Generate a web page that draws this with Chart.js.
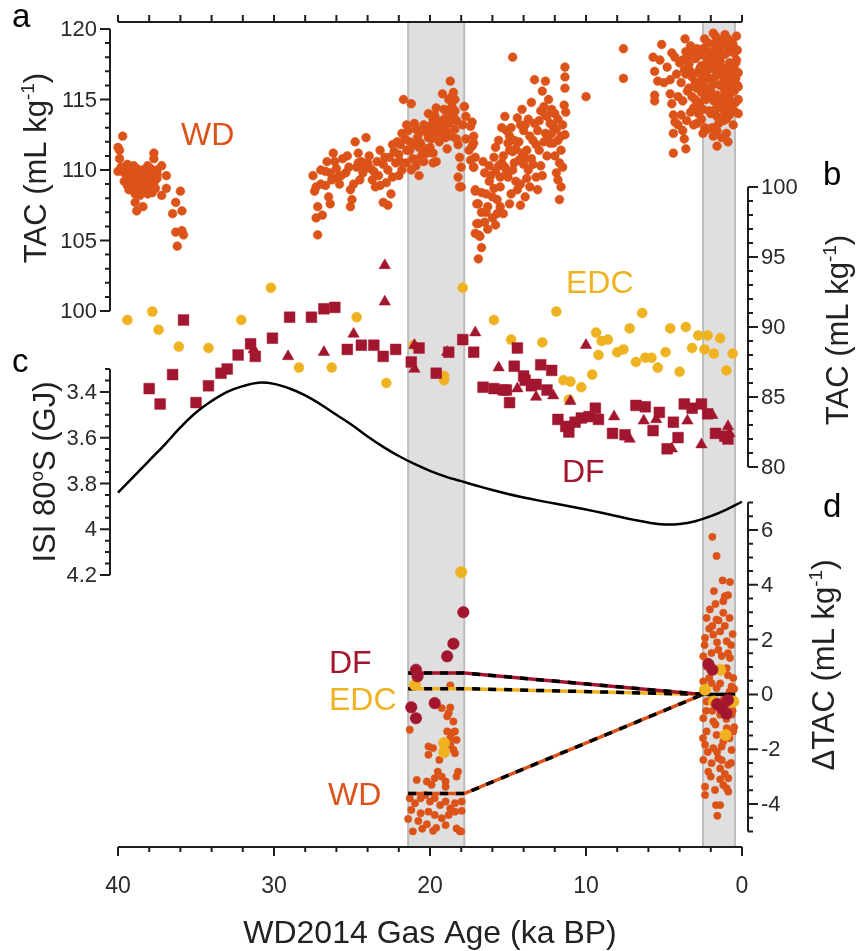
<!DOCTYPE html>
<html>
<head>
<meta charset="utf-8">
<script src="https://cdn.jsdelivr.net/npm/chart.js@4.4.1/dist/chart.umd.min.js"></script>
<style>
  body { margin: 0; background: #fff; }
</style>
</head>
<body>
<canvas id="tacChart" width="857" height="951"></canvas>
<script>
'use strict';

// ---------- data : [age ka BP, value] ----------

// panel a : WAIS Divide TAC (mL/kg)
const wdTac = [
  [40.0,111.6],[39.9,111.4],[39.7,112.4],[39.9,110.8],[40.0,109.9],[39.4,110.4],[37.7,111.2],[37.7,110.8],
  [37.2,110.3],[37.5,109.7],[36.9,109.6],[36.9,108.7],[37.2,108.2],[38.9,107.7],[38.8,107.1],[38.4,107.4],
  [36.0,108.5],[36.3,107.7],[35.9,107.1],[36.5,106.9],[36.3,105.6],[35.9,105.7],[35.8,105.4],[36.2,104.6],
  [39.8,110.2],[39.6,109.8],[39.5,110.0],[39.4,109.6],[39.3,109.9],[39.2,109.3],[39.1,109.7],[39.0,109.0],
  [38.9,109.5],[38.8,110.1],[38.8,108.8],[38.7,109.2],[38.6,109.8],[38.5,108.5],[38.5,109.4],[38.4,110.0],
  [38.3,109.1],[38.2,108.7],[38.2,109.6],[38.1,108.3],[38.0,109.3],[38.0,109.9],[37.9,108.9],[37.8,109.5],
  [37.8,108.4],[37.7,109.1],[37.6,109.8],[37.6,108.7],[37.5,109.4],[39.3,108.6],[39.0,110.3],[38.6,108.2],
  [38.3,109.9],[37.9,110.1],[39.6,109.2],[39.4,108.9],[38.9,108.3],[38.1,110.3],[37.5,110.0],
  [27.5,109.6],[27.4,108.5],[27.3,108.8],[27.2,107.4],[27.3,106.6],[27.2,105.4],[26.9,106.8],[27.0,109.0],
  [26.7,109.9],[26.6,110.6],[26.2,111.2],[26.3,109.3],[26.5,108.1],[26.4,107.6],[26.0,110.1],[25.8,109.0],
  [25.6,110.8],[25.4,109.8],[25.1,108.6],[25.0,107.9],[25.1,107.4],[24.8,112.0],[24.6,111.2],[24.7,110.2],
  [24.5,109.3],[24.4,110.6],[24.1,112.3],[24.2,110.1],[24.0,110.5],[23.7,109.3],[23.6,109.9],[23.4,110.6],
  [23.5,108.8],[23.2,108.9],[23.0,107.7],[22.9,110.9],[22.7,107.5],[22.7,110.0],[22.5,108.3],[22.4,109.5],
  [22.2,110.5],[22.1,112.0],[22.0,111.1],[21.9,111.8],[21.8,110.0],[21.7,115.0],[21.6,112.2],[21.5,113.2],
  [21.5,111.4],[21.3,112.0],[21.2,114.7],[21.2,110.0],[21.1,110.8],[20.9,112.9],[20.7,111.6],[20.7,109.6],
  [20.5,111.1],[20.4,110.6],[20.2,112.7],[20.1,114.0],[20.0,111.6],[19.9,112.2],[19.8,111.2],[19.7,113.9],
  [19.6,112.8],[19.6,110.6],[19.4,112.0],[19.2,115.4],[19.1,114.3],[19.1,113.1],[18.9,111.5],[18.8,115.0],
  [18.7,116.3],[18.7,113.8],[18.6,114.5],[18.5,115.5],[18.4,112.9],[18.3,112.2],[18.2,111.8],[18.1,110.9],
  [18.2,109.5],[18.1,108.8],[18.0,110.2],[17.9,113.2],[17.8,114.5],[17.7,112.2],[17.5,111.4],[17.4,110.7],
  [17.3,113.4],[17.2,111.9],[17.2,110.2],[17.1,108.6],[17.0,107.6],[17.0,106.2],[16.9,105.4],
  [21.0,111.8],[20.8,112.3],[20.6,111.9],[20.3,111.5],[20.1,112.3],[19.9,113.2],[19.7,112.5],[19.5,113.5],
  [19.3,112.6],[19.0,113.7],[18.9,112.7],[18.8,113.3],[18.6,112.4],[18.5,113.8],[18.4,114.2],[19.8,110.5],
  [20.9,110.3],[21.5,110.5],[22.3,111.3],[22.6,110.9],[23.0,110.4],[23.8,110.1],[24.3,109.8],[25.2,110.2],
  [25.9,109.5],[26.7,108.9],[27.0,110.0],[26.1,110.6],[25.3,111.0],[24.9,109.0],[23.3,109.6],[22.8,109.1],
  [21.8,112.6],[21.4,112.8],[21.0,113.3],[20.6,112.7],[20.4,113.2],[20.2,111.2],[20.0,112.8],[19.8,113.6],
  [19.6,114.4],[19.4,113.0],[19.2,113.5],[19.0,112.3],[18.8,114.2],[18.6,115.2],[18.4,115.0],[18.3,113.5],
  [20.7,110.8],[21.3,111.4],[21.9,110.6],[22.4,111.8],[23.2,111.4],[23.9,111.0],[24.6,110.5],[25.7,109.6],
  [26.4,109.8],[22.0,109.6],
  [17.8,114.5],[17.7,113.8],[17.4,113.1],[17.2,112.4],[17.3,111.7],[17.1,110.9],[17.2,110.2],[18.0,108.8],
  [17.1,108.5],[16.9,107.6],[16.7,107.0],[16.9,106.2],[17.1,105.5],[16.8,105.3],[16.7,104.5],[16.9,103.7],
  [16.5,106.3],[16.3,107.4],[16.4,108.3],[16.5,109.8],[16.6,110.6],[16.2,109.2],[15.9,110.9],[16.0,108.1],
  [15.8,109.9],[15.7,106.9],[15.8,106.1],[15.6,112.1],[15.5,108.8],[15.4,110.5],[15.3,106.9],[15.2,113.8],
  [15.1,112.8],[15.0,109.5],[14.9,107.6],[14.9,111.4],[14.8,108.3],[14.7,110.0],[14.6,112.1],[14.4,113.7],
  [14.3,110.7],[14.2,109.0],[14.1,114.3],[14.0,112.8],[13.9,108.1],[13.8,111.4],[13.7,110.0],[13.6,108.8],
  [13.5,114.8],[13.4,112.1],[13.3,116.4],[13.3,113.3],[13.2,109.5],[13.1,108.6],[13.0,111.4],[12.8,115.6],
  [12.7,114.5],[12.6,116.3],[12.6,112.6],[12.5,113.8],[12.4,115.0],[12.3,111.9],[12.2,114.3],[12.1,113.1],
  [12.0,111.0],[11.9,109.8],[11.8,112.1],[11.7,107.9],[11.8,109.3],[11.6,108.8],[11.6,111.4],[11.5,113.2],
  [11.4,114.6],[11.35,115.8],[11.35,116.6],[11.35,117.3],[11.3,114.1],[11.35,112.5],[11.5,110.2],[14.7,118.0],
  [10.0,115.2],[7.6,118.6],[7.6,116.5],
  [15.9,108.7],[15.6,110.3],[15.3,111.0],[15.1,109.8],[14.9,112.4],[14.6,110.5],[14.5,109.2],[14.3,112.0],
  [14.0,110.4],[13.8,109.4],[13.6,112.4],[13.5,110.8],[13.2,111.8],[13.0,113.5],[12.9,110.3],[12.7,112.0],
  [12.5,111.0],[12.3,113.3],[12.1,111.9],[11.9,112.9],[11.7,110.5],[16.2,110.3],[16.4,107.0],[16.0,106.6],
  [15.7,107.9],[14.4,108.6],[13.9,113.2],[12.8,109.6],[15.4,113.0],[14.7,111.3],
  [16.1,109.6],[15.8,111.6],[15.5,109.5],[15.2,110.2],[15.0,111.9],[14.8,113.0],[14.5,111.5],[14.2,113.2],
  [14.1,111.2],[13.9,110.8],[13.7,113.6],[13.4,110.4],[13.1,112.8],[12.9,114.2],[12.6,113.9],[12.4,112.4],
  [12.2,112.6],[12.0,114.0],[11.8,113.6],[11.6,112.4],[16.7,108.4],[16.3,105.8],[15.5,107.4],[14.2,107.5],
  [5.15,118.9],[3.65,119.3],[1.84,119.7],[1.09,119.6],[0.35,119.5],[5.7,118.0],[5.26,117.8],[4.5,118.3],
  [3.3,118.8],[2.7,118.5],[2.16,119.0],[1.63,118.8],[0.56,118.8],[5.6,117.0],[5.4,116.3],[5.6,115.3],
  [5.6,114.9],[4.6,116.4],[4.6,115.4],[4.5,114.7],[4.4,113.9],[4.3,113.4],[4.4,112.6],[4.4,111.2],
  [3.6,111.5],[3.7,112.2],[3.8,112.8],[3.55,113.5],[3.1,114.4],[2.9,113.3],[2.5,112.6],[1.84,112.4],
  [1.6,111.7],[1.0,112.6],[0.9,114.3],[0.24,115.0],[0.24,115.9],[0.24,116.9],[0.35,117.8],[0.24,114.0],
  [0.56,113.2],
  [3.4,117.5],[3.2,116.6],[3.0,117.9],[2.9,115.8],[2.8,116.9],[2.7,114.8],[2.6,117.4],[2.5,116.1],
  [2.4,115.3],[2.3,118.0],[2.2,116.6],[2.1,114.2],[2.0,117.2],[2.0,115.6],[1.9,118.3],[1.8,116.1],
  [1.8,114.9],[1.7,117.6],[1.6,115.3],[1.6,113.8],[1.5,116.8],[1.5,118.6],[1.4,114.6],[1.4,116.0],
  [1.3,117.3],[1.2,115.1],[1.2,113.5],[1.1,116.5],[1.1,118.2],[1.0,114.9],[1.0,117.0],[0.9,115.8],
  [0.8,117.6],[0.8,113.9],[0.7,116.3],[0.7,118.9],[0.6,114.8],[0.6,115.9],[0.5,117.2],[0.5,114.2],
  [0.4,116.5],[3.9,116.2],[3.8,114.9],[3.7,117.1],[3.5,115.6],[3.3,114.1],[4.1,115.2],[4.0,117.6],
  [4.2,116.8],[3.1,113.2],[2.6,113.6],[2.2,112.9],[1.3,112.3],[0.9,112.0],[1.9,113.0],[4.8,117.3],
  [5.0,116.2],[2.4,119.3],[1.4,119.2],[0.9,119.3],[3.6,118.4],[4.3,118.0],[0.3,118.5],[2.9,118.6],
  [1.7,119.5],[2.1,117.9],[1.2,118.9],[0.6,117.5],[3.2,115.2],[2.7,115.8],
  [3.5,118.0],[3.3,117.0],[3.1,118.3],[3.0,116.2],[2.9,114.6],[2.8,118.1],[2.7,117.2],[2.6,115.5],
  [2.5,118.6],[2.5,114.3],[2.4,116.7],[2.3,115.0],[2.3,117.0],[2.2,118.4],[2.1,115.8],[2.0,116.4],
  [2.0,114.0],[1.9,117.4],[1.9,115.2],[1.8,118.9],[1.7,116.6],[1.7,114.3],[1.6,118.1],[1.6,116.8],
  [1.5,115.0],[1.5,113.3],[1.4,117.7],[1.3,116.1],[1.3,114.4],[1.2,119.0],[1.2,116.8],[1.1,114.0],
  [1.1,115.6],[1.0,118.3],[1.0,116.0],[0.9,117.1],[0.9,114.9],[0.8,118.6],[0.8,115.3],[0.7,117.4],
  [0.7,114.5],[0.6,116.6],[0.6,119.0],[0.5,115.6],[0.5,118.3],[0.4,114.8],[0.4,117.6],[0.3,116.0],
  [3.4,115.8],[3.6,116.8],[3.8,117.8],[3.0,115.0],[2.6,116.4],[2.2,117.6],[1.8,117.2],[1.4,118.3],
  [1.0,113.6],[3.9,113.9],[2.8,114.0],[2.4,113.0],[4.1,113.2],[1.6,112.8]
];

// panel b : EDC and Dome Fuji TAC (mL/kg)
const edcTac = [
  [39.4,90.5],[37.8,91.1],[37.4,89.8],[36.1,88.6],[34.2,88.5],[32.1,90.5],[30.2,92.8],[28.4,87.1],
  [26.3,87.1],[24.7,90.7],[22.8,86.0],[21.05,88.7],[19.1,86.5],[19.1,86.2],[17.9,92.8],[15.9,90.5],
  [14.8,89.1],[12.8,88.9],[11.9,91.1],[11.45,86.2],[11.0,86.1],[11.1,84.8],[10.3,85.7],[9.6,86.6],
  [9.35,89.6],[9.2,88.0],[9.0,89.0],[8.6,89.1],[8.0,88.2],[7.6,88.4],[7.2,89.9],[6.8,87.5],
  [6.4,91.0],[6.2,87.8],[5.8,87.8],[5.4,87.1],[4.9,88.2],[4.6,89.9],[4.0,86.8],[3.6,90.0],
  [3.2,88.5],[2.8,89.4],[2.2,89.4],[2.4,88.4],[1.8,88.1],[1.4,89.2],[1.0,86.9],[0.6,88.1]
];
const dfTacSquares = [
  [38.0,85.6],[37.3,84.5],[36.5,86.6],[35.8,90.5],[35.0,84.6],[34.2,85.8],[33.4,86.7],[33.0,87.0],
  [32.3,88.0],[31.5,88.8],[31.2,87.9],[30.1,89.2],[29.0,90.7],[27.6,90.7],[26.8,91.3],[26.1,91.4],
  [25.3,88.4],[24.4,88.7],[23.6,88.7],[23.0,87.9],[22.2,88.4],[21.2,87.5],[20.7,88.5],[19.6,86.7],
  [18.8,88.2],[17.9,89.1],[17.2,88.2],[14.4,88.5],[14.6,87.2],[16.6,85.7],[15.9,85.6],[15.3,85.5],
  [15.1,85.5],[14.9,84.6],[14.0,86.5],[13.9,86.2],[13.5,85.8],[13.2,85.9],[12.9,87.3],[12.2,86.9],
  [12.5,85.5],[11.8,83.4],[11.3,82.9],[11.1,82.5],[10.7,83.2],[10.3,83.5],[9.8,83.6],[9.4,84.2],
  [9.2,83.4],[8.3,82.4],[7.5,82.3],[6.8,84.4],[6.2,84.3],[5.3,83.9],[5.7,82.6],[4.4,83.2],
  [4.1,82.1],[4.8,81.3],[3.7,84.5],[3.2,84.2],[2.6,84.5],[2.2,83.8],[1.7,82.4],[1.1,82.2],[0.9,82.0]
];
const dfTacTriangles = [
  [31.3,88.4],[29.1,87.9],[26.8,88.2],[24.9,89.5],[22.9,94.4],[22.9,91.8],[21.0,88.7],[21.0,87.0],
  [18.9,88.2],[17.1,89.6],[10.0,88.7],[15.6,87.1],[14.4,85.6],[13.2,85.0],[12.1,85.1],[11.0,84.7],
  [8.2,83.6],[7.2,82.0],[6.3,83.3],[5.5,83.4],[4.5,81.3],[3.5,83.3],[2.6,81.6],[1.9,83.7],[0.9,82.9],[0.8,82.4]
];

// panel c : insolation 80S (GJ)
const isiAge = [40,39,38,37,36,35,34,33,32,31,30,29,28,27,26,25,24,23,22,21,20,
                19,18,17,16,15,14,13,12,11,10,9,8,7,6,5,4,3,2,1,0];
const isiValue = [3.84,3.77,3.70,3.63,3.555,3.49,3.44,3.40,3.375,3.36,3.365,3.385,3.415,3.455,3.50,3.545,
                  3.595,3.64,3.68,3.715,3.745,3.77,3.79,3.81,3.829,3.846,3.861,3.875,3.888,3.901,3.914,
                  3.928,3.943,3.958,3.971,3.979,3.977,3.965,3.943,3.914,3.88];

// panel d : TAC anomaly (mL/kg)
const wdDelta = [
  [18.7,0.33],[21.3,-1.29],[19.25,-0.5],[18.7,-0.48],[18.8,-0.68],[18.9,-0.8],[18.5,-0.99],[18.9,-1.35],
  [18.6,-1.4],[18.4,-1.35],[18.7,-1.6],[18.3,-1.66],[20.1,-1.9],[19.8,-1.96],[20.1,-2.2],[18.7,-1.84],
  [18.5,-2.02],[18.4,-2.15],[19.4,-2.39],[20.85,-3.12],[20.2,-3.18],[19.9,-3.3],[19.7,-3.06],[19.5,-2.82],
  [19.25,-3.0],[19.0,-3.18],[18.3,-3.0],[18.2,-2.82],[19.0,-3.37],[21.3,-3.79],[20.96,-3.97],[20.6,-3.79],
  [20.3,-3.67],[20.0,-3.91],[19.7,-3.79],[19.35,-4.04],[19.0,-3.91],[18.7,-4.16],[18.4,-3.97],[17.97,-3.91],
  [21.2,-4.22],[20.6,-4.34],[20.1,-4.28],[19.7,-4.4],[19.25,-4.52],[18.8,-4.4],[18.4,-4.28],[17.97,-4.25],
  [21.4,-4.55],[20.75,-4.62],[20.2,-4.74],[19.6,-4.87],[20.5,-4.9],[19.0,-4.77],[18.3,-4.89],[18.1,-4.99],
  [21.1,-5.0],[19.8,-4.98],[18.0,-5.0],
  [1.9,5.75],[1.63,5.05],[1.24,4.16],[0.77,4.1],[1.8,3.77],[1.1,3.58],[0.9,3.62],[2.06,3.1],
  [1.2,2.98],[0.8,2.79],[2.27,2.79],[1.63,2.73],[2.37,2.06],[1.84,2.18],[1.4,2.3],[0.98,1.94],
  [2.48,1.39],[1.95,1.51],[1.52,1.63],[0.77,1.33],[2.27,1.02],[0.98,0.96],[0.56,0.6],[2.48,0.47],
  [1.95,0.41],[1.63,0.23],[0.67,0.29],[2.27,-0.26],[0.98,-0.38],[0.67,-0.74],[2.48,-0.87],[1.84,-0.99],
  [1.4,-0.74],[2.27,-1.35],[1.63,-1.48],[0.98,-1.23],[0.56,-1.35],[2.37,-1.84],[1.84,-1.96],[1.2,-1.72],
  [0.67,-2.03],[2.48,-2.39],[1.95,-2.51],[1.52,-2.33],[0.88,-2.57],[2.16,-2.82],[1.4,-2.7],[0.88,-3.06],
  [2.37,-3.37],[1.73,-3.49],[0.98,-3.43],[2.37,-3.67],[1.2,-3.31],[0.88,-3.55],[1.67,-4.04],[1.4,-4.04],
  [1.58,-4.43],
  [2.4,1.8],[2.2,1.2],[2.1,0.6],[2.0,-0.2],[1.9,-0.6],[1.8,0.9],[1.7,-1.1],[1.6,1.9],
  [1.5,-0.4],[1.4,0.4],[1.3,1.4],[1.3,-1.9],[1.2,-0.2],[1.1,2.5],[1.0,-0.9],[0.9,0.7],
  [0.8,-1.6],[0.7,1.8],[0.6,-0.6],[0.5,0.2],[0.5,-1.2],[2.3,-0.6],[2.5,-1.6],[2.2,-2.1],
  [1.9,2.5],[1.5,2.7],[1.3,-2.4],[1.1,-2.9],[0.9,1.5],[0.6,2.2],[2.0,-3.0],[1.7,3.3],
  [1.4,-3.1],[0.7,-2.5],[0.5,-0.3],[2.5,0.1],[1.6,-2.1],[2.1,2.4],[1.2,3.4],[0.8,0.1]
];
const edcDelta = [[20.96,0.35],[19.1,-1.78],[19.1,-2.11],[18.0,4.46],[1.4,0.9],[2.37,0.17],[1.8,-0.26],[0.56,-0.26],[1.05,-1.48]];
const dfDelta = [[17.86,3.0],[18.5,1.85],[18.9,1.39],[20.9,0.9],[20.8,0.66],[19.7,-0.32],[21.2,-0.47],[20.9,-0.87],
                 [2.15,1.1],[1.9,0.9],[1.6,-0.35],[1.3,-0.5],[1.0,-0.7],[0.9,-0.2]];

// LGM - Holocene step fits
const fitAge = [21.4, 17.8, 2.5];
const wdFit = [-3.62, -3.62, 0];
const edcFit = [0.21, 0.21, 0];
const dfFit = [0.78, 0.78, 0];
const refAge = [2.5, 0.45];
const refDelta = [0, 0];

// shaded windows (ka BP)
const bands = [[21.4, 17.8], [2.5, 0.45]];

// tick labels
const ageTicks = [40, 30, 20, 10, 0];
const tacATicks = [100, 105, 110, 115, 120];
const tacBTicks = [80, 85, 90, 95, 100];
const isiTicks = [3.4, 3.6, 3.8, 4, 4.2];
const deltaTicks = [-4, -2, 0, 2, 4, 6];

// ---------- layout ----------
const AREA = { left: 118, right: 742, top: 22, bottom: 847 };
const W = 857, H = 951;
const ORANGE = '#dc5319', YELLOW = '#efb322', DARKRED = '#a3162f';
const FONT = '"Liberation Sans", Arial, sans-serif';

// value range of a hidden y axis so that vTop sits at pixel pTop and vBot at pBot
function span(vTop, pTop, vBot, pBot) {
  const upp = (vTop - vBot) / (pBot - pTop);
  const atTop = vTop + (pTop - AREA.top) * upp;
  const atBot = vBot - (AREA.bottom - pBot) * upp;
  return { min: Math.min(atTop, atBot), max: Math.max(atTop, atBot), reverse: atTop < atBot };
}

function pts(pairs) { return pairs.map(p => ({ x: p[0], y: p[1] })); }
function zipPts(xs, ys) { return xs.map((x, i) => ({ x: x, y: ys[i] })); }

function scatterSet(label, pairs, axis, color, style, radius, order) {
  return { label: label, data: pts(pairs), yAxisID: axis, backgroundColor: color, borderColor: color,
           borderWidth: 0.5, pointStyle: style, pointRadius: radius, showLine: false, order: order, clip: false };
}
function lineSet(label, data, axis, color, width, dash, order, tension) {
  return { label: label, data: data, yAxisID: axis, borderColor: color, backgroundColor: color,
           borderWidth: width, borderDash: dash, pointRadius: 0, showLine: true,
           tension: tension || 0, cubicInterpolationMode: 'default', order: order, clip: false };
}

// ---------- hand-drawn frame: bands, partial axes, labels ----------
function drawYAxis(ctx, scale, o) {
  const x = o.x, s = o.side;
  ctx.beginPath();
  ctx.moveTo(x, scale.getPixelForValue(o.from));
  ctx.lineTo(x, scale.getPixelForValue(o.to));
  const n = Math.round((o.to - o.from) / o.minor);
  for (let i = 0; i <= n; i++) {
    const y = scale.getPixelForValue(o.from + i * o.minor);
    ctx.moveTo(x, y); ctx.lineTo(x + s * 5, y);
  }
  o.ticks.forEach(v => {
    const y = scale.getPixelForValue(v);
    ctx.moveTo(x, y); ctx.lineTo(x + s * 10, y);
  });
  ctx.stroke();
  ctx.textAlign = s < 0 ? 'right' : 'left';
  ctx.textBaseline = 'middle';
  o.ticks.forEach(v => {
    ctx.fillText(String(+v.toFixed(2)), x + s * 13, scale.getPixelForValue(v) + 1);
  });
}

function drawRich(ctx, parts, size) {
  // parts: [text, superscript?]; drawn centred on the origin, on the baseline
  const big = size + 'px ' + FONT, small = Math.round(size * 0.62) + 'px ' + FONT;
  let total = 0;
  parts.forEach(p => { ctx.font = p[1] ? small : big; total += ctx.measureText(p[0]).width; });
  let x = -total / 2;
  ctx.textAlign = 'left';
  ctx.textBaseline = 'alphabetic';
  parts.forEach(p => {
    ctx.font = p[1] ? small : big;
    ctx.fillText(p[0], x, p[1] ? -size * 0.4 : 0);
    x += ctx.measureText(p[0]).width;
  });
}

function drawTitle(ctx, parts, x, y, size, rotate) {
  ctx.save();
  ctx.translate(x, y);
  if (rotate) ctx.rotate(-Math.PI / 2);
  drawRich(ctx, parts, size);
  ctx.restore();
}

const framePlugin = {
  id: 'frame',
  beforeDatasetsDraw(chart) {
    const { ctx, chartArea: a } = chart;
    const xs = chart.scales.x;
    ctx.save();
    bands.forEach(b => {
      const x1 = xs.getPixelForValue(b[0]), x2 = xs.getPixelForValue(b[1]);
      ctx.fillStyle = '#dfdfdf';
      ctx.fillRect(x1, a.top, x2 - x1, a.bottom - a.top);
      ctx.strokeStyle = '#bdbdbd';
      ctx.lineWidth = 2;
      ctx.beginPath();
      ctx.moveTo(x1, a.top); ctx.lineTo(x1, a.bottom);
      ctx.moveTo(x2, a.top); ctx.lineTo(x2, a.bottom);
      ctx.stroke();
    });
    ctx.restore();
  },
  afterDraw(chart) {
    const { ctx, chartArea: a, scales } = chart;
    const xs = scales.x;
    ctx.save();
    ctx.strokeStyle = '#1e1e1e';
    ctx.fillStyle = '#2a2a2a';
    ctx.lineWidth = 2;
    ctx.font = '22px ' + FONT;

    const lx = a.left - 8, rx = a.right + 6;
    drawYAxis(ctx, scales.yA, { x: lx, side: -1, from: 100, to: 120, minor: 1, ticks: tacATicks });
    drawYAxis(ctx, scales.yB, { x: rx, side: 1, from: 80, to: 100, minor: 1, ticks: tacBTicks });
    drawYAxis(ctx, scales.yC, { x: lx, side: -1, from: 3.3, to: 4.2, minor: 0.05, ticks: isiTicks });
    drawYAxis(ctx, scales.yD, { x: rx, side: 1, from: -5, to: 7, minor: 0.5, ticks: deltaTicks });

    // bottom and top age axes
    ctx.beginPath();
    ctx.moveTo(xs.getPixelForValue(40), a.bottom); ctx.lineTo(xs.getPixelForValue(0), a.bottom);
    ctx.moveTo(xs.getPixelForValue(40), a.top); ctx.lineTo(xs.getPixelForValue(0), a.top);
    for (let v = 0; v <= 40; v += 2) {
      const x = xs.getPixelForValue(v);
      ctx.moveTo(x, a.bottom); ctx.lineTo(x, a.bottom + (v % 10 === 0 ? 9 : 5));
      ctx.moveTo(x, a.top); ctx.lineTo(x, a.top - 7);
    }
    ctx.stroke();
    ctx.font = '23px ' + FONT;
    ctx.textAlign = 'center';
    ctx.textBaseline = 'middle';
    ageTicks.forEach(v => ctx.fillText(String(v), xs.getPixelForValue(v), 887));

    // axis titles
    ctx.fillStyle = '#222';
    drawTitle(ctx, [['WD2014 Gas Age (ka BP)', false]], (a.left + a.right) / 2, 943, 32, false);
    drawTitle(ctx, [['TAC (mL kg', false], ['-1', true], [')', false]], 46, 168, 31, true);
    drawTitle(ctx, [['ISI 80', false], ['o', true], ['S (GJ)', false]], 55, 472, 31, true);
    drawTitle(ctx, [['TAC (mL kg', false], ['-1', true], [')', false]], 848, 330, 31, true);
    drawTitle(ctx, [['\u0394TAC (mL kg', false], ['-1', true], [')', false]], 834, 665, 31, true);

    // panel letters
    ctx.fillStyle = '#000';
    ctx.font = '33px ' + FONT;
    ctx.textAlign = 'left';
    ctx.textBaseline = 'alphabetic';
    ctx.fillText('a', 12, 27);
    ctx.fillText('b', 823, 185);
    ctx.fillText('c', 12, 372);
    ctx.fillText('d', 823, 517);

    // series labels
    ctx.font = '32px ' + FONT;
    ctx.fillStyle = ORANGE;  ctx.fillText('WD', 181, 145);
    ctx.fillStyle = YELLOW;  ctx.fillText('EDC', 566, 293);
    ctx.fillStyle = DARKRED; ctx.fillText('DF', 562, 482);
    ctx.fillStyle = DARKRED; ctx.fillText('DF', 329, 673);
    ctx.fillStyle = YELLOW;  ctx.fillText('EDC', 329, 710);
    ctx.fillStyle = ORANGE;  ctx.fillText('WD', 328, 805);
    ctx.restore();
  }
};

// ---------- chart ----------
const yA = span(120, 29, 100, 311);
const yB = span(100, 187, 80, 467);
const yC = span(3.3, 369, 4.2, 575);
const yD = span(7, 502.6, -5, 831.4);

new Chart(document.getElementById('tacChart').getContext('2d'), {
  type: 'scatter',
  data: {
    datasets: [
      scatterSet('DF anomaly', dfDelta, 'yD', DARKRED, 'circle', 5.8, 0),
      scatterSet('EDC anomaly', edcDelta, 'yD', YELLOW, 'circle', 5.8, 1),
      lineSet('reference', zipPts(refAge, refDelta), 'yD', '#000', 3.5, [], 2),
      lineSet('DF fit dash', zipPts(fitAge, dfFit), 'yD', '#000', 3.5, [8, 8], 3),
      lineSet('DF fit', zipPts(fitAge, dfFit), 'yD', DARKRED, 3.5, [], 4),
      lineSet('EDC fit dash', zipPts(fitAge, edcFit), 'yD', '#000', 3.5, [8, 8], 5),
      lineSet('EDC fit', zipPts(fitAge, edcFit), 'yD', YELLOW, 3.5, [], 6),
      lineSet('WD fit dash', zipPts(fitAge, wdFit), 'yD', '#000', 3.5, [8, 8], 7),
      lineSet('WD fit', zipPts(fitAge, wdFit), 'yD', ORANGE, 3.5, [], 8),
      scatterSet('WD anomaly', wdDelta, 'yD', ORANGE, 'circle', 3.7, 9),
      lineSet('ISI 80S', zipPts(isiAge, isiValue), 'yC', '#000', 2.5, [], 10, 0.4),
      scatterSet('DF', dfTacSquares, 'yB', DARKRED, 'rect', 7.6, 11),
      scatterSet('DF', dfTacTriangles, 'yB', DARKRED, 'triangle', 6.6, 12),
      scatterSet('EDC', edcTac, 'yB', YELLOW, 'circle', 5, 13),
      scatterSet('WD', wdTac, 'yA', ORANGE, 'circle', 4.4, 14)
    ]
  },
  options: {
    responsive: false,
    animation: false,
    events: [],
    layout: { padding: { left: AREA.left, right: W - AREA.right, top: AREA.top, bottom: H - AREA.bottom } },
    scales: {
      x: { type: 'linear', min: 0, max: 40, reverse: true, display: false },
      yA: { type: 'linear', display: false, min: yA.min, max: yA.max, reverse: yA.reverse },
      yB: { type: 'linear', display: false, min: yB.min, max: yB.max, reverse: yB.reverse },
      yC: { type: 'linear', display: false, min: yC.min, max: yC.max, reverse: yC.reverse },
      yD: { type: 'linear', display: false, min: yD.min, max: yD.max, reverse: yD.reverse }
    },
    plugins: {
      legend: { display: false },
      tooltip: { enabled: false }
    }
  },
  plugins: [framePlugin]
});
</script>
</body>
</html>
